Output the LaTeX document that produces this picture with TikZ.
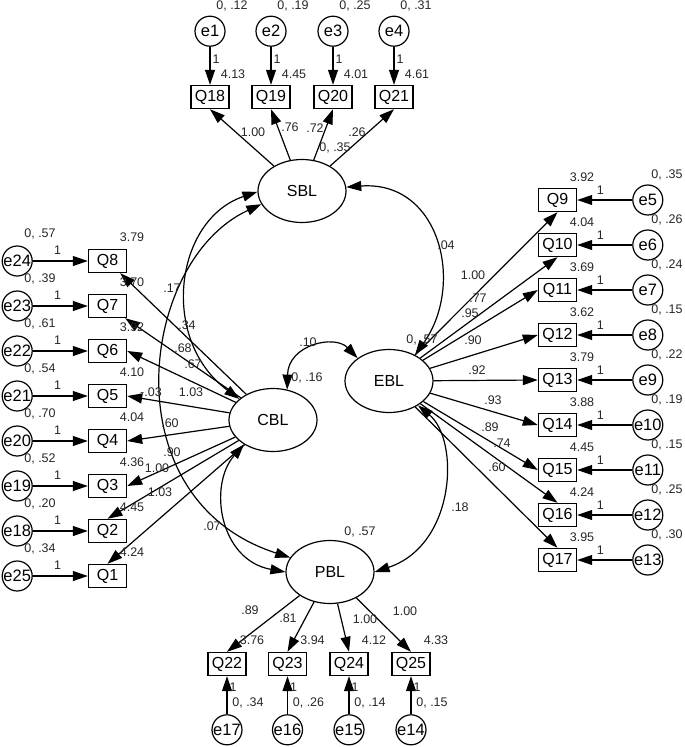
\documentclass[tikz,border=0pt]{standalone}
\usepackage{fontspec}
\setmainfont{Liberation Sans}
\usetikzlibrary{shapes.geometric, arrows.meta, positioning}
\tikzset{
    latent/.style={ellipse, draw=black, line width=1.2pt, minimum width=88pt, minimum height=63pt, inner sep=0pt, font=\fontsize{16}{16}\selectfont},
    obs/.style={rectangle, draw=black, line width=1.4pt, minimum width=38pt, minimum height=23pt, inner sep=0pt, font=\fontsize{16}{16}\selectfont},
    err/.style={circle, draw=black, line width=1.2pt, minimum size=30pt, inner sep=0pt, font=\fontsize{16.5}{16.5}\selectfont},
    num/.style={inner sep=0pt, font=\fontsize{12.5}{12.5}\selectfont, text=black!85},
    arrow/.style={line width=1.2pt, -{Triangle[length=15pt, width=10pt]}},
    cov/.style={line width=1.2pt, {Triangle[length=15pt, width=10pt]}-{Triangle[length=15pt, width=10pt]}}
}
\begin{document}
\begin{tikzpicture}[x=1pt, y=-1pt]
    \useasboundingbox (0,0) rectangle (685,747);

    % latent factors
    \node (SBL) [latent] at (302,191) {SBL};
    \node (EBL) [latent] at (389,381) {EBL};
    \node (CBL) [latent] at (273,420) {CBL};
    \node (PBL) [latent] at (330,572) {PBL};

    % top items
    \node (Q18) [obs] at (210,97) {Q18};
    \node (Q19) [obs] at (271,97) {Q19};
    \node (Q20) [obs] at (333,97) {Q20};
    \node (Q21) [obs] at (394,97) {Q21};
    \node (e1) [err, above=38pt of Q18] {e1};
    \node (e2) [err, above=38pt of Q19] {e2};
    \node (e3) [err, above=38pt of Q20] {e3};
    \node (e4) [err, above=38pt of Q21] {e4};

    % left items
    \node (Q8) [obs] at (107.5,261) {Q8};
    \node (Q7) [obs] at (107.5,306) {Q7};
    \node (Q6) [obs] at (107.5,351) {Q6};
    \node (Q5) [obs] at (107.5,396) {Q5};
    \node (Q4) [obs] at (107.5,441) {Q4};
    \node (Q3) [obs] at (107.5,486) {Q3};
    \node (Q2) [obs] at (107.5,531) {Q2};
    \node (Q1) [obs] at (107.5,576) {Q1};
    \node (e24) [err, left=55pt of Q8] {e24};
    \node (e23) [err, left=55pt of Q7] {e23};
    \node (e22) [err, left=55pt of Q6] {e22};
    \node (e21) [err, left=55pt of Q5] {e21};
    \node (e20) [err, left=55pt of Q4] {e20};
    \node (e19) [err, left=55pt of Q3] {e19};
    \node (e18) [err, left=55pt of Q2] {e18};
    \node (e25) [err, left=55pt of Q1] {e25};

    % right items
    \node (Q9) [obs] at (557.5,200) {Q9};
    \node (Q10) [obs] at (557.5,245) {Q10};
    \node (Q11) [obs] at (557.5,290) {Q11};
    \node (Q12) [obs] at (557.5,335) {Q12};
    \node (Q13) [obs] at (557.5,380) {Q13};
    \node (Q14) [obs] at (557.5,425) {Q14};
    \node (Q15) [obs] at (557.5,470) {Q15};
    \node (Q16) [obs] at (557.5,515) {Q16};
    \node (Q17) [obs] at (557.5,560) {Q17};
    \node (e5) [err, right=55pt of Q9] {e5};
    \node (e6) [err, right=55pt of Q10] {e6};
    \node (e7) [err, right=55pt of Q11] {e7};
    \node (e8) [err, right=55pt of Q12] {e8};
    \node (e9) [err, right=55pt of Q13] {e9};
    \node (e10) [err, right=55pt of Q14] {e10};
    \node (e11) [err, right=55pt of Q15] {e11};
    \node (e12) [err, right=55pt of Q16] {e12};
    \node (e13) [err, right=55pt of Q17] {e13};

    % bottom items
    \node (Q22) [obs] at (227,664) {Q22};
    \node (Q23) [obs] at (287.5,664) {Q23};
    \node (Q24) [obs] at (349,664) {Q24};
    \node (Q25) [obs] at (411,664) {Q25};
    \node (e17) [err, below=38pt of Q22] {e17};
    \node (e16) [err, below=38pt of Q23] {e16};
    \node (e15) [err, below=38pt of Q24] {e15};
    \node (e14) [err, below=38pt of Q25] {e14};

    % error paths
    \draw [arrow] (e1) -- node (w1) [num, pos=0.32, right=2pt] {1} (Q18);
    \draw [arrow] (e2) -- node (w2) [num, pos=0.32, right=2pt] {1} (Q19);
    \draw [arrow] (e3) -- node (w3) [num, pos=0.32, right=2pt] {1} (Q20);
    \draw [arrow] (e4) -- node (w4) [num, pos=0.32, right=2pt] {1} (Q21);
    \draw [arrow] (e24) -- node (w24) [num, pos=0.45, above=6pt] {1} (Q8);
    \draw [arrow] (e23) -- node (w23) [num, pos=0.45, above=6pt] {1} (Q7);
    \draw [arrow] (e22) -- node (w22) [num, pos=0.45, above=6pt] {1} (Q6);
    \draw [arrow] (e21) -- node (w21) [num, pos=0.45, above=6pt] {1} (Q5);
    \draw [arrow] (e20) -- node (w20) [num, pos=0.45, above=6pt] {1} (Q4);
    \draw [arrow] (e19) -- node (w19) [num, pos=0.45, above=6pt] {1} (Q3);
    \draw [arrow] (e18) -- node (w18) [num, pos=0.45, above=6pt] {1} (Q2);
    \draw [arrow] (e25) -- node (w25) [num, pos=0.45, above=6pt] {1} (Q1);
    \draw [arrow] (e5) -- node (w5) [num, pos=0.58, above=5pt] {1} (Q9);
    \draw [arrow] (e6) -- node (w6) [num, pos=0.58, above=5pt] {1} (Q10);
    \draw [arrow] (e7) -- node (w7) [num, pos=0.58, above=5pt] {1} (Q11);
    \draw [arrow] (e8) -- node (w8) [num, pos=0.58, above=5pt] {1} (Q12);
    \draw [arrow] (e9) -- node (w9) [num, pos=0.58, above=5pt] {1} (Q13);
    \draw [arrow] (e10) -- node (w10) [num, pos=0.58, above=5pt] {1} (Q14);
    \draw [arrow] (e11) -- node (w11) [num, pos=0.58, above=5pt] {1} (Q15);
    \draw [arrow] (e12) -- node (w12) [num, pos=0.58, above=5pt] {1} (Q16);
    \draw [arrow] (e13) -- node (w13) [num, pos=0.58, above=5pt] {1} (Q17);
    \draw [arrow] (e17) -- node (w17) [num, pos=0.7, right=2pt] {1} (Q22);
    \draw [arrow] (e16) -- node (w16) [num, pos=0.7, right=2pt] {1} (Q23);
    \draw [arrow] (e15) -- node (w15) [num, pos=0.7, right=2pt] {1} (Q24);
    \draw [arrow] (e14) -- node (w14) [num, pos=0.7, right=2pt] {1} (Q25);

    % loadings
    \draw [arrow] (SBL) -- (Q18.south);
    \draw [arrow] (SBL) -- (Q19.south);
    \draw [arrow] (SBL) -- (Q20.south);
    \draw [arrow] (SBL) -- (Q21.south);
    \draw [arrow] (CBL) -- (Q8);
    \draw [arrow] (CBL) -- (Q7);
    \draw [arrow] (CBL) -- (Q6.east);
    \draw [arrow] (CBL) -- (Q5.east);
    \draw [arrow] (CBL) -- (Q4.east);
    \draw [arrow] (CBL) -- (Q3.east);
    \draw [arrow] (CBL) -- (Q2.north);
    \draw [arrow] (CBL) -- (Q1.north);
    \draw [arrow] (EBL) -- (Q9.south);
    \draw [arrow] (EBL) -- (Q10.south);
    \draw [arrow] (EBL) -- (Q11.west);
    \draw [arrow] (EBL) -- (Q12.west);
    \draw [arrow] (EBL) -- (Q13.west);
    \draw [arrow] (EBL) -- (Q14.west);
    \draw [arrow] (EBL) -- (Q15.west);
    \draw [arrow] (EBL) -- (Q16.north);
    \draw [arrow] (EBL) -- (Q17.north);
    \draw [arrow] (PBL) -- (Q22.north);
    \draw [arrow] (PBL) -- (Q23.north);
    \draw [arrow] (PBL) -- (Q24.north);
    \draw [arrow] (PBL) -- (Q25.north);

    % covariances
    \draw [cov] (SBL.5) .. controls +(94,-7) and +(50,-70) .. (EBL.45);
    \draw [cov] (CBL.65) .. controls +(1,-45) and +(-23,-24) .. (EBL.144);
    \draw [cov] (SBL.181) .. controls +(-83,28) and +(-80,-59) .. (CBL.148);
    \draw [cov] (SBL.198) .. controls +(-122,56) and +(-181,-58) .. (PBL.160);
    \draw [cov] (CBL.220) .. controls +(-36,41) and +(-66,-12) .. (PBL.180);
    \draw [cov] (EBL.320) .. controls +(42,35) and +(81,-27) .. (PBL.0);

    % variances of factors
    \node (vSBL) [num] at (335,148) {0, .35};
    \node (vEBL) [num] at (422,340) {0, .57};
    \node (vCBL) [num] at (307,378) {0, .16};
    \node (vPBL) [num] at (360,532) {0, .57};

    % covariance values
    \node (cSE) [num] at (446,245) {.04};
    \node (cCE) [num] at (308,342) {.10};
    \node (cSC) [num] at (187,325) {.34};
    \node (cSP) [num] at (172,288) {.17};
    \node (cCP) [num] at (212,526) {.07};
    \node (cEP) [num] at (460,507) {.18};

    % error variances
    \node (v1) [num] at (232,6) {0, .12};
    \node (v2) [num] at (293,6) {0, .19};
    \node (v3) [num] at (355,6) {0, .25};
    \node (v4) [num] at (416,6) {0, .31};
    \node (v24) [num] at (40,234) {0, .57};
    \node (v23) [num] at (40,279) {0, .39};
    \node (v22) [num] at (40,324) {0, .61};
    \node (v21) [num] at (40,369) {0, .54};
    \node (v20) [num] at (40,414) {0, .70};
    \node (v19) [num] at (40,459) {0, .52};
    \node (v18) [num] at (40,504) {0, .20};
    \node (v25) [num] at (40,549) {0, .34};
    \node (v5) [num] at (667,175) {0, .35};
    \node (v6) [num] at (667,220) {0, .26};
    \node (v7) [num] at (667,265) {0, .24};
    \node (v8) [num] at (667,310) {0, .15};
    \node (v9) [num] at (667,355) {0, .22};
    \node (v10) [num] at (667,400) {0, .19};
    \node (v11) [num] at (667,445) {0, .15};
    \node (v12) [num] at (667,490) {0, .25};
    \node (v13) [num] at (667,535) {0, .30};
    \node (v17) [num] at (248,703) {0, .34};
    \node (v16) [num] at (308.5,703) {0, .26};
    \node (v15) [num] at (370,703) {0, .14};
    \node (v14) [num] at (432,703) {0, .15};

    % intercepts
    \node (i18) [num] at (233,74) {4.13};
    \node (i19) [num] at (294,74) {4.45};
    \node (i20) [num] at (356,74) {4.01};
    \node (i21) [num] at (417,74) {4.61};
    \node (i8) [num] at (132,237) {3.79};
    \node (i7) [num] at (132,282) {3.70};
    \node (i6) [num] at (132,327) {3.92};
    \node (i5) [num] at (132,372) {4.10};
    \node (i4) [num] at (132,417) {4.04};
    \node (i3) [num] at (132,462) {4.36};
    \node (i2) [num] at (132,507) {4.45};
    \node (i1) [num] at (132,552) {4.24};
    \node (i9) [num] at (582,177) {3.92};
    \node (i10) [num] at (582,222) {4.04};
    \node (i11) [num] at (582,267) {3.69};
    \node (i12) [num] at (582,312) {3.62};
    \node (i13) [num] at (582,357) {3.79};
    \node (i14) [num] at (582,402) {3.88};
    \node (i15) [num] at (582,447) {4.45};
    \node (i16) [num] at (582,492) {4.24};
    \node (i17) [num] at (582,537) {3.95};
    \node (i22) [num] at (252,640) {3.76};
    \node (i23) [num] at (312.5,640) {3.94};
    \node (i24) [num] at (374,640) {4.12};
    \node (i25) [num] at (436,640) {4.33};

    % loading values
    \node (b18) [num] at (253,132) {1.00};
    \node (b19) [num] at (290,127) {.76};
    \node (b20) [num] at (315,128) {.72};
    \node (b21) [num] at (357,132) {.26};
    \node (b8) [num] at (183,348) {.68};
    \node (b7) [num] at (193,364) {.67};
    \node (b6) [num] at (191,392) {1.03};
    \node (b5) [num] at (151,392) {-.03};
    \node (b4) [num] at (170,423) {.60};
    \node (b3) [num] at (172,452) {.90};
    \node (b2) [num] at (157,468) {1.00};
    \node (b1) [num] at (160,492) {1.03};
    \node (b9) [num] at (473,275) {1.00};
    \node (b10) [num] at (478,298) {.77};
    \node (b11) [num] at (470,313) {.95};
    \node (b12) [num] at (473,340) {.90};
    \node (b13) [num] at (477,370) {.92};
    \node (b14) [num] at (493,400) {.93};
    \node (b15) [num] at (490,427) {.89};
    \node (b16) [num] at (502,443) {.74};
    \node (b17) [num] at (497,467) {.60};
    \node (b22) [num] at (250,610) {.89};
    \node (b23) [num] at (288,618) {.81};
    \node (b24) [num] at (365,619) {1.00};
    \node (b25) [num] at (405,611) {1.00};
\end{tikzpicture}
\end{document}
